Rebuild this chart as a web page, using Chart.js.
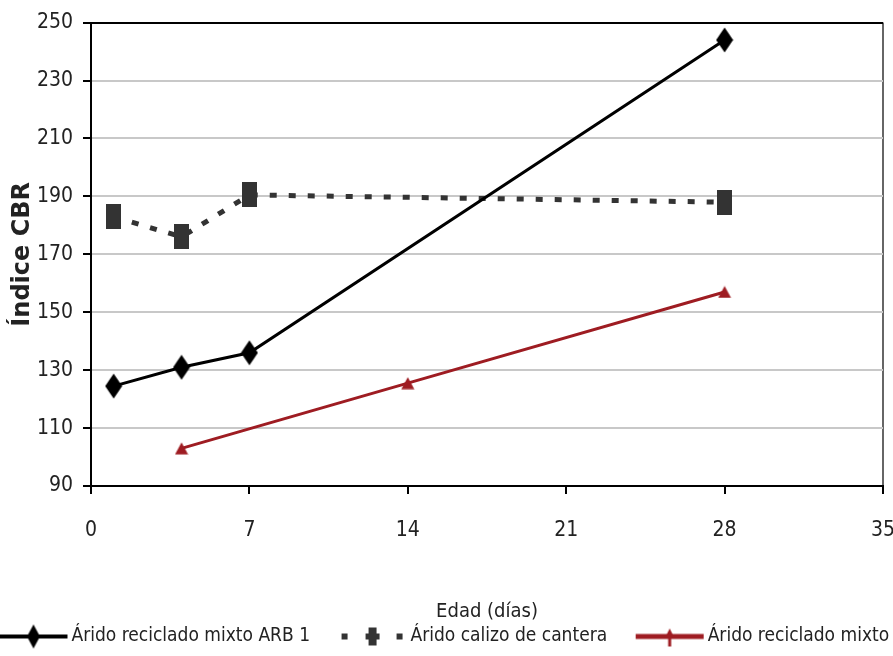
<!DOCTYPE html>
<html><head><meta charset="utf-8">
<script src="https://cdn.jsdelivr.net/npm/chart.js@4/dist/chart.umd.min.js"></script>
<style>
html,body{margin:0;padding:0;overflow:hidden;background:#fff;width:893px;height:656px;position:relative}
#wrap{position:absolute;left:-29px;top:0;width:1200px;height:656px}
</style>
</head><body><div id="wrap"><canvas id="c"></canvas></div>
<script>
// ---- data ----
const xTicks = [0, 7, 14, 21, 28, 35];
const yTicks = [90, 110, 130, 150, 170, 190, 210, 230, 250];
const seriesNames = ['Árido reciclado mixto ARB 1', 'Árido calizo de cantera', 'Árido reciclado mixto ARB 2'];
const agesArb1 = [1, 4, 7, 28];
const cbrArb1 = [124.5, 131, 136, 244];
const agesCaliza = [1, 4, 7, 28];
const cbrCaliza = [183, 176, 190.5, 188];
const agesArb2 = [4, 14, 28];
const cbrArb2 = [103, 125.5, 157];
const xTitle = 'Edad (días)';
const yTitle = 'Índice CBR';

const FONT = "'Liberation Sans Narrow','DejaVu Sans Condensed','Roboto Condensed','Arial Narrow',sans-serif";
const RED = '#9e1c22';
const DARK = '#333333';
const PAGE_LEFT = 29;          // canvas px hidden left of the page
const PLOT_LEFT = 91 + PAGE_LEFT;
const PLOT_RIGHT = 883 + PAGE_LEFT;
const CANVAS_W = 1200;

function mk(w, h, draw) { const c = document.createElement('canvas'); c.width = w; c.height = h; draw(c.getContext('2d'), w, h); return c; }
function diamond(g, cx, cy, w, h, col) { g.fillStyle = col; g.beginPath(); g.moveTo(cx, cy - h / 2); g.lineTo(cx + w / 2, cy); g.lineTo(cx, cy + h / 2); g.lineTo(cx - w / 2, cy); g.closePath(); g.fill(); }
function tri(g, cx, cy, w, h, col) { g.fillStyle = col; g.beginPath(); g.moveTo(cx, cy - h / 2); g.lineTo(cx + w / 2, cy + h / 2); g.lineTo(cx - w / 2, cy + h / 2); g.closePath(); g.fill(); }

const imgDiamond = mk(18, 26, (g, w, h) => diamond(g, w / 2, h / 2, 17, 25, '#000'));
const imgSquare = mk(15, 25, (g, w, h) => { g.fillStyle = DARK; g.fillRect(0, 0, w, h); });
const imgTri = mk(14, 13, (g, w, h) => tri(g, w / 2, h / 2, 13, 12, RED));

// legend samples: transparent left part makes the gap between items
const LW = 100, LH = 26, S0 = 31, S1 = 99, SC = (S0 + S1) / 2;
const legDiamond = mk(LW, LH, (g, w, h) => { g.strokeStyle = '#000'; g.lineWidth = 4; g.beginPath(); g.moveTo(S0, h / 2); g.lineTo(S1, h / 2); g.stroke(); diamond(g, SC, h / 2, 13, 24, '#000'); });
const legSquare = mk(LW, LH, (g, w, h) => { g.fillStyle = DARK; g.fillRect(S0 + 3, h / 2 - 3, 6, 6); g.fillRect(S1 - 10, h / 2 - 3, 6, 6); g.fillRect(SC - 7, h / 2 - 3, 14, 6); g.fillRect(SC - 4, h / 2 - 9, 8, 18); });
const legTri = mk(LW, LH, (g, w, h) => { g.strokeStyle = RED; g.lineWidth = 5; g.beginPath(); g.moveTo(S0, h / 2); g.lineTo(S1, h / 2); g.stroke(); tri(g, SC, h / 2 - 3, 10, 10, RED); g.fillRect(SC - 1.5, h / 2, 3, 10); });
const legendImgs = [legDiamond, legSquare, legTri];

const pts = (xs, ys) => xs.map((x, i) => ({ x: x, y: ys[i] }));

new Chart(document.getElementById('c'), {
  type: 'line',
  data: {
    datasets: [
      { label: seriesNames[0], data: pts(agesArb1, cbrArb1), borderColor: '#000', backgroundColor: '#000', borderWidth: 3, pointStyle: imgDiamond, pointRadius: 10, yAxisID: 'y' },
      { label: seriesNames[1], data: pts(agesCaliza, cbrCaliza), borderColor: DARK, backgroundColor: DARK, borderWidth: 5, borderDash: [7, 12], pointStyle: imgSquare, pointRadius: 10, yAxisID: 'y' },
      { label: seriesNames[2], data: pts(agesArb2, cbrArb2), borderColor: RED, backgroundColor: RED, borderWidth: 3, pointStyle: imgTri, pointRadius: 8, yAxisID: 'y' }
    ]
  },
  options: {
    responsive: true, maintainAspectRatio: false, animation: false,
    layout: { padding: { top: 14, right: 0, left: 0, bottom: 0 } },
    plugins: {
      tooltip: { enabled: false },
      legend: {
        position: 'bottom', align: 'start',
        labels: {
          usePointStyle: true, pointStyleWidth: 87, padding: 4, color: '#222',
          font: { family: FONT, size: 19 },
          generateLabels: (chart) => chart.data.datasets.map((d, i) => ({ text: d.label, pointStyle: legendImgs[i], datasetIndex: i, lineWidth: 0, fillStyle: 'transparent', strokeStyle: 'transparent', fontColor: '#222' }))
        }
      }
    },
    scales: {
      x: {
        type: 'linear', min: 0, max: 35,
        afterBuildTicks: (s) => { s.ticks = xTicks.map(v => ({ value: v })); },
        afterFit: (s) => { s.height = 137; },
        ticks: { color: '#222', font: { family: FONT, size: 21 }, padding: 24, maxRotation: 0 },
        grid: { drawOnChartArea: true, color: (c) => c.tick && c.tick.value === 35 ? '#666' : 'rgba(0,0,0,0)', lineWidth: 2, tickLength: 8, tickColor: '#000' },
        border: { color: '#000', width: 2 },
        title: { display: true, text: xTitle, color: '#222', font: { family: FONT, size: 20 }, padding: { top: 0, bottom: -1 } }
      },
      y: {
        position: 'left', min: 90, max: 250,
        afterBuildTicks: (s) => { s.ticks = yTicks.map(v => ({ value: v })); },
        afterFit: (s) => { s.width = PLOT_LEFT; },
        ticks: { color: '#222', font: { family: FONT, size: 21 }, padding: 10 },
        grid: { color: (c) => c.tick && c.tick.value === 250 ? '#000' : '#c8c8c8', lineWidth: 2, tickLength: 8, tickColor: '#000' },
        border: { color: '#000', width: 2 },
        title: { display: true, text: yTitle, color: '#222', font: { family: "'DejaVu Sans',sans-serif", size: 24, weight: 'bold' }, padding: { top: 37, bottom: 0 } }
      },
      yR: {
        position: 'right', min: 90, max: 250,
        afterFit: (s) => { s.width = CANVAS_W - PLOT_RIGHT; },
        ticks: { display: false },
        grid: { display: false, drawTicks: false },
        border: { display: false }
      }
    }
  }
});
</script>
</body></html>
